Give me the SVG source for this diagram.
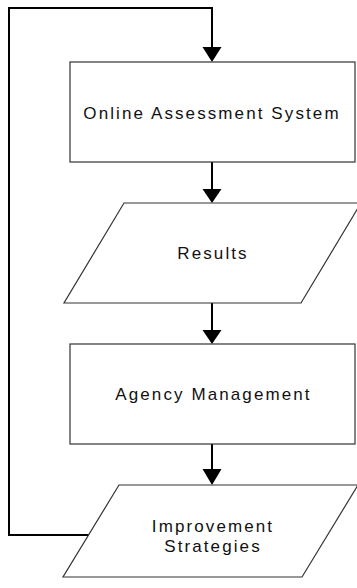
<svg xmlns="http://www.w3.org/2000/svg" width="357" height="588" viewBox="0 0 357 588">
<style>
.shape{fill:#fff;stroke:#333;stroke-width:1.2}
.lbl{font-family:"Liberation Sans",Arial,sans-serif;font-size:17px;letter-spacing:2.1px;fill:#111;text-anchor:middle}
.conn{fill:none;stroke:#000;stroke-width:2}
.head{fill:#000}
</style>
<rect width="357" height="588" fill="#fff"/>
<g id="connectors">
<polyline class="conn" points="90,535 9,535 9,8 212,8 212,48"/>
<polygon class="head" points="202.5,47 221.5,47 212,62"/>
<line class="conn" x1="212" y1="162" x2="212" y2="190"/>
<polygon class="head" points="202.5,189 221.5,189 212,203"/>
<line class="conn" x1="212" y1="303" x2="212" y2="331"/>
<polygon class="head" points="202.5,330 221.5,330 212,344"/>
<line class="conn" x1="212" y1="444" x2="212" y2="470"/>
<polygon class="head" points="202.5,469 221.5,469 212,485"/>
</g>
<g id="online-assessment-system">
<rect class="shape" x="70" y="62" width="285" height="100"/>
<text class="lbl" x="212" y="119">Online Assessment System</text>
</g>
<g id="results">
<polygon class="shape" points="124,203 361,203 301,303 64,303"/>
<text class="lbl" x="213" y="259">Results</text>
</g>
<g id="agency-management">
<rect class="shape" x="70" y="344" width="285" height="100"/>
<text class="lbl" x="213.5" y="400">Agency Management</text>
</g>
<g id="improvement-strategies">
<polygon class="shape" points="119,485 358,485 302,577 63,577"/>
<text class="lbl" x="213" y="531.5">Improvement</text>
<text class="lbl" x="213" y="551.5">Strategies</text>
</g>
</svg>
